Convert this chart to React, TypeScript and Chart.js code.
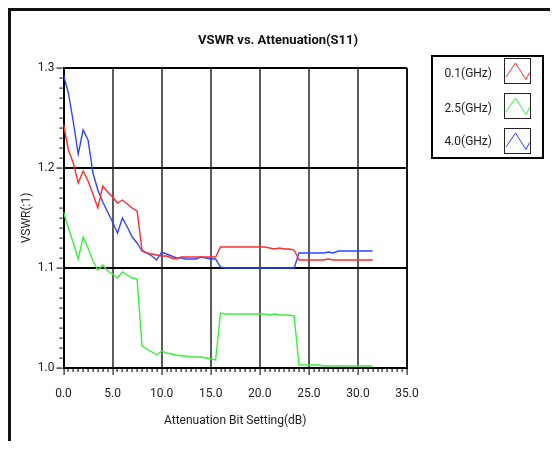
import React, { useEffect, useRef } from "react";
import { Chart, registerables } from "chart.js";

Chart.register(...registerables);

const ATTEN_DB = [
  0, 0.5, 1, 1.5, 2, 2.5, 3, 3.5, 4, 4.5,
  5, 5.5, 6, 6.5, 7, 7.5, 8, 8.5, 9, 9.5,
  10, 10.5, 11, 11.5, 12, 12.5, 13, 13.5, 14, 14.5,
  15, 15.5, 16, 16.5, 17, 17.5, 18, 18.5, 19, 19.5,
  20, 20.5, 21, 21.5, 22, 22.5, 23, 23.5, 24, 24.5,
  25, 25.5, 26, 26.5, 27, 27.5, 28, 28.5, 29, 29.5,
  30, 30.5, 31, 31.5,
];

const VSWR_0_1GHZ = [
  1.244, 1.218, 1.205, 1.185, 1.197, 1.187, 1.174, 1.160, 1.182, 1.176,
  1.171, 1.165, 1.168, 1.164, 1.160, 1.157, 1.118, 1.115, 1.114, 1.113,
  1.112, 1.112, 1.110, 1.109, 1.111, 1.111, 1.111, 1.111, 1.111, 1.111,
  1.111, 1.111, 1.121, 1.121, 1.121, 1.121, 1.121, 1.121, 1.121, 1.121,
  1.121, 1.121, 1.120, 1.119, 1.120, 1.119, 1.119, 1.118, 1.108, 1.108,
  1.108, 1.108, 1.108, 1.108, 1.109, 1.108, 1.108, 1.108, 1.108, 1.108,
  1.108, 1.108, 1.108, 1.108,
];

const VSWR_2_5GHZ = [
  1.156, 1.140, 1.125, 1.109, 1.131, 1.120, 1.107, 1.098, 1.103, 1.097,
  1.094, 1.090, 1.096, 1.093, 1.090, 1.089, 1.022, 1.019, 1.016, 1.013,
  1.017, 1.015, 1.014, 1.013, 1.012, 1.012, 1.011, 1.011, 1.011, 1.010,
  1.009, 1.008, 1.055, 1.054, 1.054, 1.054, 1.054, 1.054, 1.054, 1.054,
  1.054, 1.054, 1.053, 1.054, 1.053, 1.053, 1.053, 1.052, 1.003, 1.003,
  1.003, 1.003, 1.003, 1.002, 1.002, 1.002, 1.002, 1.002, 1.002, 1.002,
  1.002, 1.002, 1.002, 1.002,
];

const VSWR_4_0GHZ = [
  1.293, 1.275, 1.246, 1.214, 1.238, 1.228, 1.195, 1.178, 1.166, 1.156,
  1.146, 1.135, 1.150, 1.141, 1.131, 1.125, 1.117, 1.115, 1.112, 1.108,
  1.116, 1.114, 1.112, 1.110, 1.110, 1.109, 1.109, 1.109, 1.111, 1.110,
  1.109, 1.109, 1.101, 1.100, 1.100, 1.100, 1.100, 1.100, 1.100, 1.100,
  1.100, 1.100, 1.100, 1.100, 1.100, 1.100, 1.100, 1.100, 1.115, 1.115,
  1.115, 1.115, 1.115, 1.115, 1.116, 1.115, 1.117, 1.117, 1.117, 1.117,
  1.117, 1.117, 1.117, 1.117,
];

const SERIES_LABELS = ["0.1(GHz)", "2.5(GHz)", "4.0(GHz)"];
const SERIES_COLORS = ["#ff2e2e", "#3cef3c", "#2f46ff"];
const CHART_TITLE = "VSWR vs. Attenuation(S11)";
const X_TITLE = "Attenuation Bit Setting(dB)";
const Y_TITLE = "VSWR(:1)";
const X_MIN = 0;
const X_MAX = 35;
const X_STEP = 0.5;
const X_MAJOR = 5;
const Y_MIN = 1.0;
const Y_MAX = 1.3;
const Y_STEP = 0.01;
const Y_MAJOR = 0.1;

const FONT = "Roboto, 'Liberation Sans', sans-serif";

const isMajor = (v: number, unit: number) =>
  Math.abs(v / unit - Math.round(v / unit)) < 1e-6;

const overlayPlugin = {
  id: "overlay",
  afterDraw(chart: any) {
    const ctx: CanvasRenderingContext2D = chart.ctx;
    const area = chart.chartArea;
    ctx.save();

    // tick marks (major and minor), placed via the library scales
    ctx.fillStyle = "#222";
    const xs = chart.scales.x;
    for (let v = X_MIN; v <= X_MAX + 1e-9; v += X_STEP) {
      const px = Math.round(xs.getPixelForValue(v));
      const len = isMajor(v, X_MAJOR) ? 6 : 3;
      ctx.fillRect(px - 0.5, area.bottom + 1, 1.2, len);
    }
    const ys = chart.scales.y;
    for (let k = 0; k <= Math.round((Y_MAX - Y_MIN) / Y_STEP); k++) {
      const v = Y_MIN + k * Y_STEP;
      const py = Math.round(ys.getPixelForValue(v));
      const len = isMajor(v, Y_MAJOR) ? 6 : 3;
      ctx.fillRect(area.left - 1 - len, py - 0.5, len, 1.2);
    }

    // title
    ctx.font = `bold 13px ${FONT}`;
    ctx.fillStyle = "#111";
    ctx.textAlign = "center";
    ctx.textBaseline = "middle";
    ctx.fillText(CHART_TITLE, 267, 30);

    // legend box
    const bx = 421, by = 45, bw = 111, bh = 102;
    ctx.fillStyle = "#fff";
    ctx.fillRect(bx, by, bw, bh);
    ctx.lineWidth = 2;
    ctx.strokeStyle = "#000";
    ctx.strokeRect(bx, by, bw, bh);

    const textYs = [63, 98, 131];
    const swTops = [47, 82, 117];
    chart.data.datasets.forEach((ds: any, i: number) => {
      ctx.font = `12px ${FONT}`;
      ctx.fillStyle = "#222";
      ctx.textAlign = "right";
      ctx.textBaseline = "middle";
      ctx.fillText(ds.label, 481, textYs[i]);
      const sx = 493, sy = swTops[i], sw = 26, sh = 25;
      ctx.lineWidth = 1;
      ctx.strokeStyle = "#222";
      ctx.strokeRect(sx + 0.5, sy + 0.5, sw, sh);
      ctx.beginPath();
      ctx.strokeStyle = ds.borderColor;
      ctx.lineWidth = 1;
      ctx.moveTo(sx + 2, sy + 19);
      ctx.lineTo(sx + 11.5, sy + 5);
      ctx.lineTo(sx + 22, sy + 21.5);
      ctx.lineTo(sx + 25.5, sy + 14.5);
      ctx.stroke();
    });
    ctx.restore();
  },
};

export default function App() {
  const canvasRef = useRef<HTMLCanvasElement | null>(null);

  useEffect(() => {
    document.body.style.overflow = "hidden";
    const canvas = canvasRef.current;
    if (!canvas) return;
    const values = [VSWR_0_1GHZ, VSWR_2_5GHZ, VSWR_4_0GHZ];
    const chart = new Chart(canvas, {
      type: "line",
      data: {
        datasets: values.map((vals, i) => ({
          label: SERIES_LABELS[i],
          data: ATTEN_DB.map((x, j) => ({ x, y: vals[j] })),
          borderColor: SERIES_COLORS[i],
          backgroundColor: SERIES_COLORS[i],
          borderWidth: 1.4,
          pointRadius: 0,
          tension: 0,
          fill: false,
        })),
      },
      options: {
        animation: false,
        responsive: false,
        devicePixelRatio: 1,
        layout: { padding: { top: 57, right: 151, bottom: 0, left: 0 } },
        plugins: {
          legend: { display: false },
          title: { display: false },
          tooltip: { enabled: false },
        },
        scales: {
          x: {
            type: "linear",
            min: X_MIN,
            max: X_MAX,
            afterFit: (scale: any) => {
              scale.height = 73;
            },
            border: { display: true, color: "#000", width: 2 },
            grid: {
              color: (c: any) =>
                isMajor(c.tick.value, X_MAJOR)
                  ? c.tick.value === 0 || c.tick.value === X_MAX
                    ? "#111"
                    : "#5c5c5c"
                  : "rgba(0,0,0,0)",
              lineWidth: 2,
              drawTicks: false,
            },
            ticks: {
              stepSize: X_STEP,
              autoSkip: false,
              maxRotation: 0,
              padding: 19,
              color: "#222",
              font: { family: FONT, size: 12 },
              callback: (v: any) => (isMajor(Number(v), X_MAJOR) ? Number(v).toFixed(1) : ""),
            },
            title: {
              display: true,
              text: X_TITLE,
              color: "#222",
              font: { family: FONT, size: 12 },
              padding: { top: 0, bottom: 13 },
            },
          },
          y: {
            type: "linear",
            min: Y_MIN,
            max: Y_MAX,
            afterFit: (scale: any) => {
              scale.width = 52.5;
            },
            border: { display: true, color: "#000", width: 2 },
            grid: {
              color: (c: any) => (isMajor(c.tick.value, Y_MAJOR) ? "#000" : "rgba(0,0,0,0)"),
              lineWidth: 2,
              drawTicks: false,
            },
            ticks: {
              stepSize: Y_STEP,
              autoSkip: false,
              padding: 9,
              color: "#222",
              font: { family: FONT, size: 12 },
              callback: (v: any) => (isMajor(Number(v), Y_MAJOR) ? Number(v).toFixed(1) : ""),
            },
            title: {
              display: true,
              text: Y_TITLE,
              color: "#222",
              font: { family: FONT, size: 12 },
              padding: { top: 9, bottom: 0 },
            },
          },
        },
      },
      plugins: [overlayPlugin],
    } as any);
    return () => chart.destroy();
  }, []);

  return (
    <div
      style={{
        position: "relative",
        width: 551,
        height: 434,
        marginLeft: -1,
        marginTop: -1,
        borderLeft: "4px solid #111",
        borderTop: "4px solid #111",
        boxSizing: "border-box",
        background: "#fff",
      }}
    >
      <canvas
        ref={canvasRef}
        width={547}
        height={430}
        style={{ position: "absolute", left: 0, top: 0, width: 547, height: 430 }}
      />
    </div>
  );
}
